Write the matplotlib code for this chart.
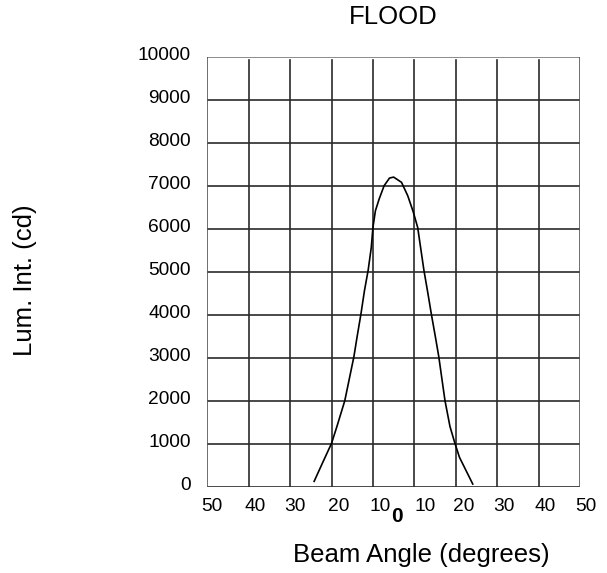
import matplotlib
matplotlib.use("Agg")
import matplotlib.pyplot as plt
from matplotlib.transforms import blended_transform_factory, ScaledTranslation

# ---- data ----
angles = [-19.2, -17.3, -15.0, -13.7, -11.8, -10.8, -9.6, -8.85, -7.9, -7.05,
          -6.15, -5.4, -5.0, -4.4, -3.5, -2.3, -1.0, 0.0,
          1.9, 3.4, 4.7, 5.8, 7.3, 8.3, 9.1, 10.1, 10.9, 11.6, 12.4, 13.6,
          14.8, 15.9, 17.5, 19.1]
intensity = [124, 527, 1008, 1400, 2000, 2465, 3023, 3473, 4016, 4558,
             5039, 5566, 6031, 6419, 6690, 7000, 7178, 7200,
             7078, 6767, 6400, 6031, 5039, 4480, 4016, 3473, 3023, 2543, 2000, 1400,
             1008, 682, 372, 62]
y_ticks = [0, 1000, 2000, 3000, 4000, 5000, 6000, 7000, 8000, 9000, 10000]
x_tick_labels = ["50", "40", "30", "20", "10", "10", "20", "30", "40", "50"]
center_label = "0"
title = "FLOOD"
x_title = "Beam Angle (degrees)"
y_title = "Lum. Int. (cd)"

# ---- layout (positions, not data) ----
x_label_pos = [-43.8, -33.4, -23.8, -13.2, -3.3, 7.6, 17.0, 26.6, 36.6, 46.3]
center_label_pos = 0.8
grid_x = [-45, -35, -25, -15, -5, 5, 15, 25, 35, 45]

plt.rcParams['font.family'] = ['Liberation Sans', 'DejaVu Sans']

W, H = 607, 573
fig = plt.figure(figsize=(W / 100, H / 100), dpi=100)
ax = fig.add_axes([207.3 / W, 1 - 486.7 / H, (580 - 207.3) / W, (486.7 - 56.7) / H])
ax.set_xlim(-45, 45)
ax.set_ylim(0, 10000)

gcol = '#2a2a2a'
for s in ax.spines.values():
    s.set_visible(False)
# horizontal grid
for yv in y_ticks:
    ax.axhline(yv, color=gcol if yv < 10000 else '#777777', lw=1.2, zorder=1)
# vertical grid (inner lines stop just below the top line)
for i, xv in enumerate(grid_x):
    top = 1.0 if i in (0, len(grid_x) - 1) else 0.993
    ax.axvline(xv, ymin=0, ymax=top, color=gcol if 0 < i < len(grid_x) - 1 else '#555555',
               lw=1.2, zorder=1)

ax.plot(angles, intensity, color='black', lw=1.2, zorder=3)

ax.set_xticks([])
ax.set_yticks(y_ticks)
ax.set_yticklabels([str(v) for v in y_ticks], fontsize=13.8)
ax.tick_params(axis='y', length=0, pad=12)
for lab in ax.get_yticklabels():
    lab.set_transform(lab.get_transform() + ScaledTranslation(0, 3 / 100, fig.dpi_scale_trans))

tr = blended_transform_factory(ax.transData, fig.transFigure)
for pos, lab in zip(x_label_pos, x_tick_labels):
    ax.text(pos, 1 - 506.5 / H, lab, transform=tr, ha='center', va='center',
            fontsize=13.8, clip_on=False)
ax.text(center_label_pos, 1 - 516 / H, center_label, transform=tr, ha='center',
        va='center', fontsize=15, fontweight='bold', clip_on=False)

fig.text(393 / W, 1 - 17 / H, title, ha='center', va='center', fontsize=18.5)
fig.text(421 / W, 1 - 555 / H, x_title, ha='center', va='center', fontsize=18.5)
fig.text(25 / W, 1 - 280 / H, y_title, ha='center', va='center', rotation=90, fontsize=18.5)

fig.savefig("out.png", dpi=100)
